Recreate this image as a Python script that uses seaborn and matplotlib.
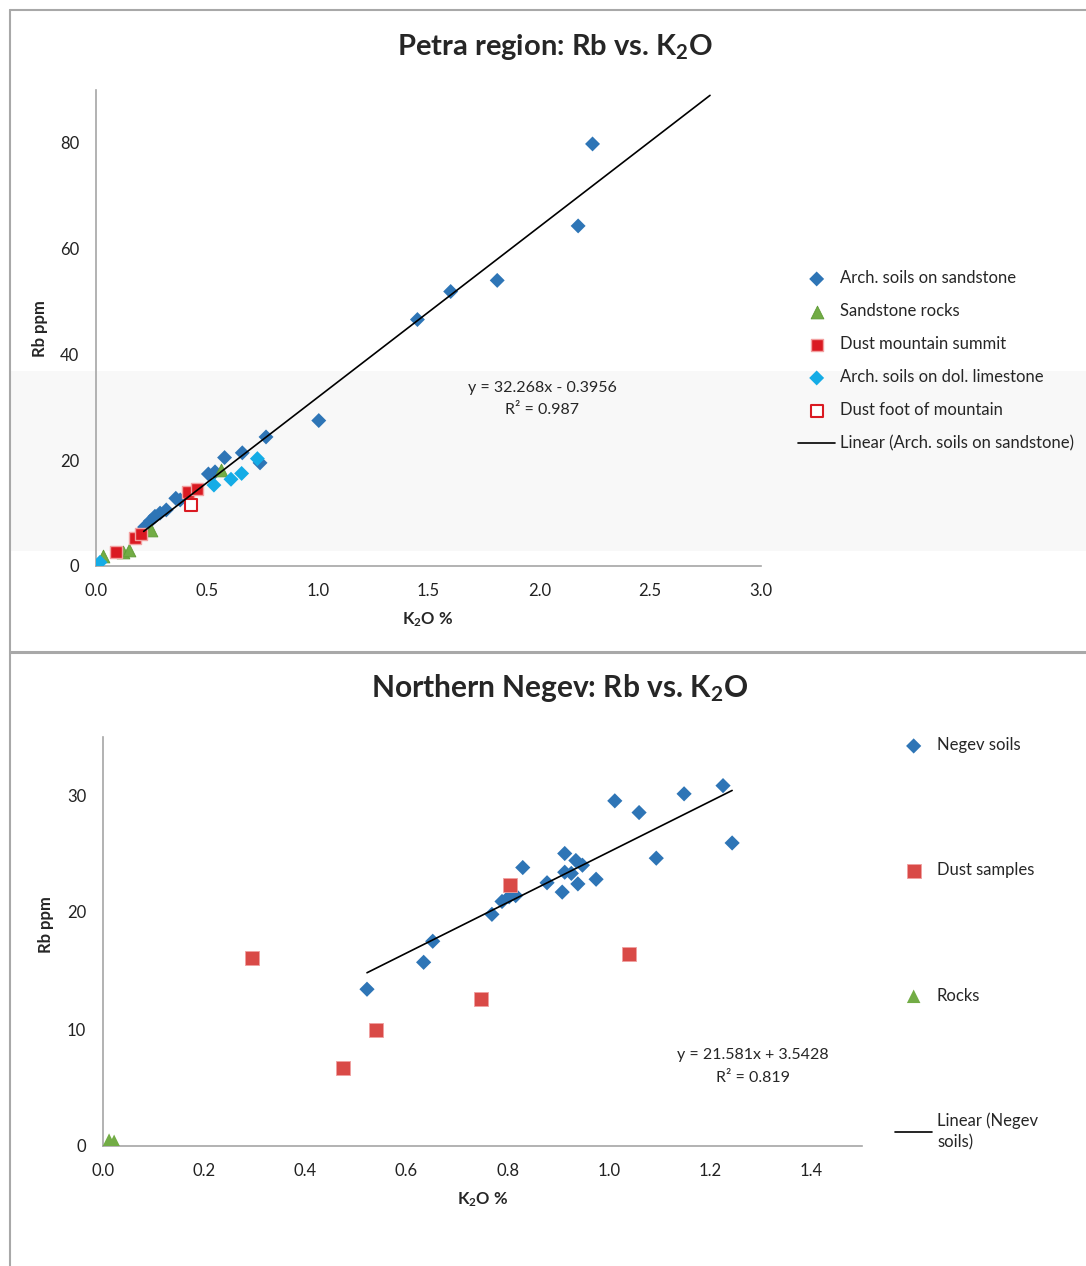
"""Rb vs. K2O scatter plots for the Petra region and the Northern Negev."""
import matplotlib
matplotlib.use("Agg")
import matplotlib.pyplot as plt
import numpy as np
import pandas as pd
import seaborn as sns
from matplotlib.lines import Line2D
from matplotlib.patches import Rectangle

# ---- Petra region -------------------------------------------------------
petra_sand_soil_k2o = [2.24, 2.175, 1.81, 1.60, 1.45, 1.005, 0.767, 0.66, 0.58, 0.74,
                       0.507, 0.537, 0.38, 0.36, 0.317, 0.289, 0.266, 0.245, 0.22, 0.215]
petra_sand_soil_rb = [79.8, 64.3, 54.0, 51.9, 46.6, 27.5, 24.4, 21.4, 20.5, 19.5,
                      17.4, 17.8, 12.5, 12.8, 10.6, 10.0, 9.4, 8.5, 7.4, 7.0]
petra_rock_k2o = [0.03, 0.12, 0.15, 0.25, 0.565]
petra_rock_rb = [1.8, 2.6, 3.0, 6.8, 18.2]
petra_summit_k2o = [0.09, 0.175, 0.205, 0.415, 0.455]
petra_summit_rb = [2.6, 5.2, 6.0, 14.0, 14.5]
petra_dol_soil_k2o = [0.018, 0.532, 0.609, 0.657, 0.728]
petra_dol_soil_rb = [0.7, 15.3, 16.4, 17.5, 20.3]
petra_foot_k2o = [0.427]
petra_foot_rb = [11.5]
petra_fit = (32.268, -0.3956)   # slope, intercept
petra_fit_end = 2.77            # forward forecast end of trendline
petra_r2 = 0.987

# ---- Northern Negev -----------------------------------------------------
negev_soil_k2o = [1.244, 1.226, 1.149, 1.060, 1.012, 1.094, 0.913, 0.935, 0.948, 0.913,
                  0.926, 0.975, 0.939, 0.908, 0.878, 0.830, 0.816, 0.803, 0.789, 0.769,
                  0.652, 0.634, 0.522]
negev_soil_rb = [25.9, 30.8, 30.1, 28.5, 29.5, 24.6, 25.0, 24.4, 24.0, 23.4,
                 23.3, 22.8, 22.4, 21.7, 22.5, 23.8, 21.4, 21.3, 20.9, 19.8,
                 17.5, 15.7, 13.4]
negev_dust_k2o = [0.295, 1.041, 0.805, 0.747, 0.540, 0.474]
negev_dust_rb = [16.1, 16.4, 22.3, 12.6, 9.9, 6.7]
negev_rock_k2o = [0.012, 0.022]
negev_rock_rb = [0.5, 0.4]
negev_fit = (21.581, 3.5428)
negev_r2 = 0.819

BLUE = "#2E75B6"
GREEN = "#72AC45"
RED = "#DA1A22"
RED2 = "#D94A47"
CYAN = "#14ACE6"
AXIS_GREY = "#A6A6A6"

sns.set_theme(style="white")
FONT = "Lato"
plt.rcParams["font.family"] = [FONT, "DejaVu Sans"]
plt.rcParams["mathtext.default"] = "regular"

W, H = 1086, 1266
fig = plt.figure(figsize=(W / 100, H / 100), dpi=100)


def fx(px):
    return px / W


def fy(py):
    return 1 - py / H


# light background band and panel frames
fig.add_artist(Rectangle((fx(10), fy(551)), fx(1076), fy(371) - fy(551),
                         transform=fig.transFigure, facecolor="#F8F8F8",
                         edgecolor="none", zorder=0))
for xs, ys, lw in [((10, 1086), (10, 10), 1.5), ((10, 10), (10, 1266), 1.5),
                   ((10, 1086), (652, 652), 2.2)]:
    fig.add_artist(Line2D([fx(x) for x in xs], [fy(y) for y in ys],
                          transform=fig.transFigure, color="#A8A8A8", lw=lw))


def style_axes(ax, xlim, ylim, xticks, yticks):
    ax.set_facecolor("none")
    ax.set_xlim(*xlim)
    ax.set_ylim(*ylim)
    ax.set_xticks(xticks)
    ax.set_yticks(yticks)
    ax.xaxis.set_major_formatter(matplotlib.ticker.FormatStrFormatter("%.1f"))
    ax.yaxis.set_major_formatter(matplotlib.ticker.FormatStrFormatter("%d"))
    for side in ["top", "right"]:
        ax.spines[side].set_visible(False)
    for side in ["left", "bottom"]:
        ax.spines[side].set_color(AXIS_GREY)
        ax.spines[side].set_linewidth(1.2)
    ax.tick_params(length=0, labelsize=12, colors="#222222", pad=12)
    ax.grid(False)


def scatter(ax, xs, ys, label, **kws):
    df = pd.DataFrame({"k2o": xs, "rb": ys})
    sns.scatterplot(data=df, x="k2o", y="rb", ax=ax, label=label, **kws)


# ---- top panel ----------------------------------------------------------
ax1 = fig.add_axes([fx(96), fy(566), fx(665), (566 - 90) / H])
scatter(ax1, petra_sand_soil_k2o, petra_sand_soil_rb, "Arch. soils on sandstone",
        marker="D", s=58, color=BLUE, edgecolor="none", zorder=3)
scatter(ax1, petra_rock_k2o, petra_rock_rb, "Sandstone rocks",
        marker="^", s=85, color=GREEN, edgecolor="#5E9A35", linewidth=0.6, zorder=3)
scatter(ax1, petra_summit_k2o, petra_summit_rb, "Dust mountain summit",
        marker="s", s=85, color=RED, edgecolor="#F2A0A0", linewidth=1.0, zorder=3)
scatter(ax1, petra_dol_soil_k2o, petra_dol_soil_rb, "Arch. soils on dol. limestone",
        marker="D", s=58, color=CYAN, edgecolor="none", zorder=3)
scatter(ax1, petra_foot_k2o, petra_foot_rb, "Dust foot of mountain",
        marker="s", s=85, color="white", edgecolor=RED, linewidth=1.5, zorder=3)
tx = np.array([min(petra_sand_soil_k2o), petra_fit_end])
sns.lineplot(x=tx, y=petra_fit[0] * tx + petra_fit[1], ax=ax1, color="black",
             lw=1.2, label="Linear (Arch. soils on sandstone)", zorder=4)
style_axes(ax1, (0, 3.0), (0, 90), np.arange(0, 3.01, 0.5), np.arange(0, 81, 20))
ax1.set_xlabel("K$_2$O %", fontsize=12, fontweight="bold")
ax1.set_ylabel("Rb ppm", fontsize=12, fontweight="bold")
ax1.xaxis.set_label_coords(0.499, -0.094)
ax1.yaxis.set_label_coords(-0.084, 0.498)
ax1.yaxis.label.set_verticalalignment("center")
fig.text(fx(555), fy(47), "Petra region: Rb vs. K$_2$O", ha="center", va="center",
         fontsize=21, fontweight="bold")
fig.text(fx(542), fy(399), f"y = {petra_fit[0]:.3f}x - {abs(petra_fit[1]):.4f}\nR² = {petra_r2:.3f}",
         ha="center", va="center", fontsize=11.5, linespacing=1.75, multialignment="center")
ax1.legend(loc="upper left", bbox_to_anchor=(fx(790), fy(262)),
           bbox_transform=fig.transFigure, frameon=False, fontsize=12,
           handlelength=2.2, handletextpad=0.3, labelspacing=1.02, borderpad=0)

# ---- bottom panel -------------------------------------------------------
ax2 = fig.add_axes([fx(103), fy(1146), fx(758.6), (1146 - 736.5) / H])
scatter(ax2, negev_soil_k2o, negev_soil_rb, "Negev soils",
        marker="D", s=60, color=BLUE, edgecolor="none", zorder=3)
scatter(ax2, negev_dust_k2o, negev_dust_rb, "Dust samples",
        marker="s", s=95, color=RED2, edgecolor="#F0A0A0", linewidth=0.6, zorder=3)
scatter(ax2, negev_rock_k2o, negev_rock_rb, "Rocks",
        marker="^", s=95, color=GREEN, edgecolor="none", zorder=3)
bx = np.array([min(negev_soil_k2o), max(negev_soil_k2o)])
sns.lineplot(x=bx, y=negev_fit[0] * bx + negev_fit[1], ax=ax2, color="black",
             lw=1.2, label="Linear (Negev\nsoils)", zorder=4)
style_axes(ax2, (0, 1.5), (0, 35), np.arange(0, 1.41, 0.2), np.arange(0, 31, 10))
ax2.set_xlabel("K$_2$O %", fontsize=12, fontweight="bold")
ax2.set_ylabel("Rb ppm", fontsize=12, fontweight="bold")
ax2.xaxis.set_label_coords(0.501, -0.107)
ax2.yaxis.set_label_coords(-0.075, 0.54)
ax2.yaxis.label.set_verticalalignment("center")
fig.text(fx(560), fy(688), "Northern Negev: Rb vs. K$_2$O", ha="center", va="center",
         fontsize=21.5, fontweight="bold")
fig.text(fx(753), fy(1066.5), f"y = {negev_fit[0]:.3f}x + {negev_fit[1]:.4f}\nR² = {negev_r2:.3f}",
         ha="center", va="center", fontsize=11.5, linespacing=1.75, multialignment="center")
leg2 = ax2.legend(loc="upper left", bbox_to_anchor=(fx(887), fy(729)),
                  bbox_transform=fig.transFigure, frameon=False, fontsize=12,
                  handlelength=2.2, handletextpad=0.3, labelspacing=6.55, borderpad=0)
for t in leg2.get_texts():
    t.set_linespacing(1.4)

fig.savefig("out.png", dpi=100)
plt.close(fig)
